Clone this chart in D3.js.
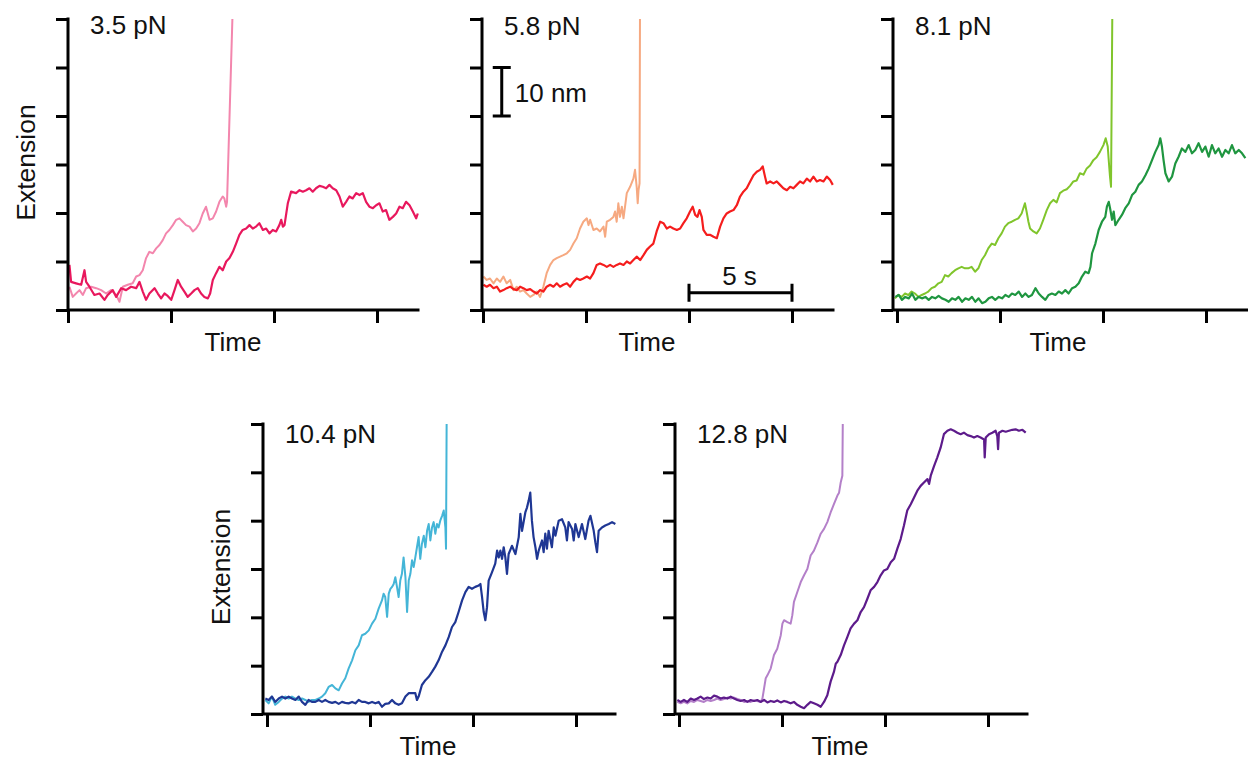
<!DOCTYPE html>
<html>
<head>
<meta charset="utf-8">
<script src="https://cdn.jsdelivr.net/npm/d3@7"></script>
<style>
  body { margin: 0; background: #fff; }
  svg { display: block; }
  text { font-family: "Liberation Sans", Arial, sans-serif; fill: #111; }
</style>
</head>
<body>
<script>
// force of each panel
const forces = ['3.5 pN', '5.8 pN', '8.1 pN', '10.4 pN', '12.8 pN'];

// [time (s), extension (nm)]
const trace35Light = [[0.07,4.8],[0.23,2.7],[0.39,3.4],[0.56,4.1],[0.72,3.1],[0.88,4.5],[1.12,4.8],[1.37,4.5],[1.61,4.1],[1.85,3.4],[2.09,4.1],[2.34,3.1],[2.5,1.7],[2.66,4.8],[2.9,5.2],[3.14,5.5],[3.31,6.9],[3.47,7.2],[3.63,8.2],[3.79,10.7],[3.95,12.0],[4.12,11.7],[4.28,12.7],[4.44,13.4],[4.6,14.4],[4.76,15.8],[4.92,16.5],[5.09,17.5],[5.25,18.6],[5.41,18.9],[5.57,18.2],[5.73,17.5],[5.9,17.2],[6.06,16.2],[6.22,16.8],[6.38,17.9],[6.54,19.9],[6.7,21.3],[6.87,18.6],[7.03,18.9],[7.19,20.3],[7.35,22.3],[7.51,23.4],[7.59,23.0],[7.68,21.3],[7.72,22.3],[7.98,60]];
const trace35Dark = [[0.07,9.3],[0.15,5.8],[0.39,5.5],[0.64,5.2],[0.8,8.2],[0.88,5.8],[1.04,4.8],[1.28,3.1],[1.53,3.4],[1.77,2.1],[1.93,3.1],[2.17,4.1],[2.34,2.7],[2.58,4.5],[2.82,4.1],[3.06,4.8],[3.31,4.5],[3.47,5.8],[3.63,3.8],[3.79,2.1],[3.95,3.4],[4.2,4.5],[4.36,3.4],[4.52,2.4],[4.68,3.4],[4.84,2.9],[5.01,2.1],[5.17,4.1],[5.33,6.2],[5.49,4.8],[5.65,3.8],[5.81,2.7],[5.98,3.4],[6.14,4.1],[6.3,4.5],[6.46,3.4],[6.62,2.7],[6.79,2.4],[6.9,3.4],[7.03,6.2],[7.19,7.6],[7.35,8.9],[7.51,8.2],[7.68,10.0],[7.84,10.7],[8.0,12.0],[8.16,13.7],[8.32,15.5],[8.48,16.5],[8.65,16.8],[8.81,17.5],[8.97,16.8],[9.13,17.2],[9.29,17.9],[9.46,16.5],[9.62,16.8],[9.78,15.8],[9.94,16.5],[10.1,16.2],[10.26,17.5],[10.35,18.6],[10.43,17.2],[10.51,17.5],[10.67,22.0],[10.83,24.4],[11.07,24.1],[11.24,24.7],[11.4,24.4],[11.56,24.7],[11.72,25.1],[11.88,24.4],[12.04,25.1],[12.21,25.6],[12.37,25.4],[12.53,25.1],[12.69,25.8],[12.85,25.1],[13.02,24.7],[13.18,23.4],[13.34,21.3],[13.5,22.3],[13.66,23.4],[13.82,23.0],[13.99,24.1],[14.15,23.7],[14.31,24.1],[14.47,22.3],[14.63,21.3],[14.8,21.0],[14.96,21.6],[15.12,22.0],[15.28,20.3],[15.44,20.6],[15.6,18.6],[15.77,19.2],[15.93,19.9],[16.09,21.3],[16.25,21.0],[16.41,22.3],[16.58,21.6],[16.74,20.3],[16.9,18.9],[16.98,19.9]];

const trace58Light = [[0.02,6.9],[0.18,6.2],[0.34,6.5],[0.51,5.5],[0.67,6.5],[0.83,5.8],[0.99,6.9],[1.15,5.5],[1.32,6.2],[1.48,4.1],[1.64,4.8],[1.8,3.8],[1.96,4.1],[2.12,3.4],[2.29,2.7],[2.45,3.1],[2.61,3.8],[2.77,2.7],[2.93,4.8],[3.09,7.6],[3.26,9.3],[3.42,10.3],[3.58,10.7],[3.74,11.0],[3.9,11.3],[4.07,11.7],[4.23,12.4],[4.39,13.7],[4.55,14.8],[4.71,16.8],[4.87,18.2],[5.04,18.9],[5.12,17.5],[5.2,18.6],[5.36,16.5],[5.52,16.8],[5.68,16.2],[5.85,17.2],[5.93,15.1],[6.01,18.2],[6.17,18.6],[6.33,19.2],[6.41,20.3],[6.49,18.2],[6.57,22.0],[6.65,19.2],[6.74,21.3],[6.82,18.9],[6.98,24.1],[7.14,25.4],[7.3,27.1],[7.38,28.9],[7.46,25.4],[7.51,22.0],[7.55,24.7],[7.6,26.1],[7.62,60]];
const trace58Dark = [[0.02,5.2],[0.18,4.8],[0.34,5.2],[0.51,4.5],[0.67,4.8],[0.83,3.8],[0.99,4.1],[1.15,4.5],[1.32,4.8],[1.48,4.3],[1.64,4.1],[1.8,4.8],[1.96,4.5],[2.12,4.1],[2.29,4.3],[2.45,3.8],[2.61,3.4],[2.77,4.1],[2.93,3.8],[3.09,4.8],[3.26,5.2],[3.42,4.8],[3.58,5.5],[3.74,4.8],[3.9,5.2],[4.07,5.5],[4.23,4.8],[4.39,5.8],[4.55,6.5],[4.71,6.2],[4.87,6.5],[5.04,6.9],[5.2,6.5],[5.36,7.6],[5.52,9.3],[5.68,9.6],[5.85,9.3],[6.01,8.9],[6.17,9.3],[6.33,8.9],[6.49,9.3],[6.65,9.6],[6.82,9.3],[6.98,10.0],[7.14,9.6],[7.3,10.3],[7.46,11.0],[7.63,10.3],[7.79,11.3],[7.95,12.4],[8.11,13.1],[8.27,13.7],[8.43,16.2],[8.6,18.2],[8.76,17.9],[8.92,16.8],[9.08,17.2],[9.24,16.8],[9.41,16.5],[9.57,16.8],[9.73,17.9],[9.89,18.9],[10.05,20.3],[10.18,21.3],[10.3,19.6],[10.41,19.2],[10.51,20.6],[10.62,19.2],[10.7,16.5],[10.86,15.5],[11.02,15.5],[11.19,15.1],[11.35,14.8],[11.51,17.2],[11.67,18.9],[11.83,19.9],[11.99,20.3],[12.16,20.6],[12.32,21.6],[12.48,23.4],[12.64,24.4],[12.8,25.1],[12.97,26.5],[13.13,27.8],[13.29,28.5],[13.45,28.9],[13.58,29.6],[13.69,27.5],[13.77,26.1],[13.94,26.5],[14.1,26.1],[14.26,26.5],[14.42,25.8],[14.58,25.1],[14.75,24.7],[14.91,25.4],[15.07,25.1],[15.23,25.8],[15.39,26.5],[15.55,26.1],[15.72,27.1],[15.88,26.5],[16.04,27.5],[16.2,26.5],[16.36,26.8],[16.53,26.5],[16.69,27.5],[16.85,26.8],[16.98,25.8]];

const trace81Light = [[-0.1,2.4],[0.06,3.1],[0.23,2.7],[0.39,3.4],[0.55,3.1],[0.71,3.8],[0.87,3.4],[1.04,2.7],[1.2,3.1],[1.36,3.4],[1.52,3.8],[1.68,4.5],[1.84,4.8],[2.01,5.5],[2.17,5.8],[2.33,7.2],[2.49,6.9],[2.65,7.6],[2.82,8.2],[2.98,8.6],[3.14,8.9],[3.3,8.6],[3.46,8.6],[3.62,8.9],[3.79,7.9],[3.95,8.6],[4.11,10.3],[4.27,11.3],[4.43,12.7],[4.6,13.7],[4.76,13.4],[4.92,14.8],[5.08,15.8],[5.24,17.2],[5.4,17.9],[5.57,18.2],[5.73,18.6],[5.89,18.9],[6.05,19.9],[6.21,22.0],[6.29,20.3],[6.38,18.2],[6.46,16.8],[6.62,16.2],[6.78,15.8],[6.94,16.8],[7.1,18.6],[7.27,20.6],[7.43,22.0],[7.59,22.7],[7.75,22.2],[7.91,24.1],[8.07,24.6],[8.24,24.9],[8.4,25.6],[8.56,26.5],[8.72,26.7],[8.88,28.2],[9.05,27.9],[9.21,29.2],[9.37,29.8],[9.53,30.9],[9.69,31.5],[9.85,32.6],[10.02,34.0],[10.13,35.4],[10.23,33.7],[10.29,30.2],[10.34,27.5],[10.39,25.4],[10.45,60]];
const trace81Dark = [[-0.08,2.7],[0.08,3.1],[0.24,2.1],[0.4,2.7],[0.57,2.4],[0.73,3.4],[0.89,2.1],[1.05,2.7],[1.21,2.4],[1.38,2.7],[1.54,2.1],[1.7,2.7],[1.86,2.4],[2.02,2.9],[2.18,2.4],[2.35,2.1],[2.51,1.7],[2.67,2.4],[2.83,2.1],[2.99,2.7],[3.16,1.7],[3.32,2.4],[3.48,2.1],[3.64,2.7],[3.8,1.7],[3.96,2.4],[4.13,1.4],[4.29,1.7],[4.45,2.4],[4.61,2.7],[4.77,2.1],[4.94,2.7],[5.1,2.4],[5.26,3.1],[5.42,2.7],[5.58,3.4],[5.74,3.1],[5.91,3.8],[6.07,2.7],[6.23,3.4],[6.39,2.7],[6.55,3.1],[6.72,4.5],[6.88,3.4],[7.04,2.7],[7.2,2.1],[7.36,3.1],[7.52,3.4],[7.69,3.1],[7.85,3.8],[8.01,3.4],[8.17,4.1],[8.33,3.4],[8.5,4.5],[8.66,4.8],[8.82,5.5],[8.98,6.9],[9.14,7.9],[9.3,7.6],[9.39,8.9],[9.47,11.7],[9.63,13.7],[9.79,16.5],[9.95,18.2],[10.11,19.2],[10.19,21.3],[10.28,22.3],[10.36,20.6],[10.44,18.6],[10.52,20.3],[10.6,17.5],[10.76,18.6],[10.92,19.6],[11.08,21.0],[11.25,22.0],[11.41,23.7],[11.57,24.4],[11.73,25.8],[11.89,26.5],[12.06,27.8],[12.22,29.2],[12.38,30.9],[12.54,32.6],[12.7,34.0],[12.78,35.4],[12.86,33.7],[12.94,30.9],[13.03,28.2],[13.19,26.5],[13.35,27.5],[13.51,30.2],[13.67,31.6],[13.83,33.3],[14.0,32.6],[14.16,34.0],[14.32,32.3],[14.48,33.0],[14.64,34.4],[14.81,32.6],[14.97,33.7],[15.13,31.6],[15.29,34.0],[15.45,32.3],[15.61,33.3],[15.78,31.6],[15.94,33.0],[16.1,32.3],[16.26,34.0],[16.42,32.3],[16.59,33.0],[16.75,32.3],[16.91,31.3]];

const trace104Light = [[-0.08,2.9],[0.08,2.2],[0.24,3.6],[0.4,1.9],[0.57,2.5],[0.73,3.2],[0.89,3.6],[1.05,3.2],[1.21,3.6],[1.38,3.2],[1.54,2.9],[1.7,3.2],[1.86,2.9],[2.02,2.5],[2.18,2.9],[2.35,2.9],[2.51,3.2],[2.67,3.6],[2.83,4.3],[2.99,5.6],[3.16,6.0],[3.32,5.3],[3.48,4.9],[3.64,6.3],[3.8,7.4],[3.96,9.4],[4.13,11.1],[4.29,13.2],[4.45,14.2],[4.61,16.3],[4.77,16.6],[4.94,17.3],[5.1,18.7],[5.26,19.7],[5.42,21.8],[5.58,23.5],[5.66,24.9],[5.74,24.2],[5.83,20.1],[5.91,24.9],[5.99,25.9],[6.07,26.3],[6.15,26.9],[6.23,28.3],[6.31,26.3],[6.39,24.2],[6.47,27.6],[6.55,29.0],[6.63,32.4],[6.72,28.3],[6.8,21.1],[6.88,27.6],[6.96,29.0],[7.04,31.8],[7.12,30.4],[7.2,32.4],[7.28,34.5],[7.36,36.6],[7.44,32.1],[7.52,35.2],[7.61,36.9],[7.69,34.5],[7.77,37.9],[7.85,39.3],[7.93,35.9],[8.01,38.6],[8.09,39.7],[8.17,37.3],[8.25,39.3],[8.33,38.6],[8.41,40.0],[8.5,41.0],[8.58,42.1],[8.66,38.6],[8.69,34.2],[8.72,60]];
const trace104Dark = [[-0.08,3.2],[0.08,2.9],[0.24,3.6],[0.4,2.5],[0.57,3.2],[0.73,3.6],[0.89,3.2],[1.05,3.6],[1.21,3.2],[1.38,2.9],[1.54,3.6],[1.7,2.5],[1.86,1.9],[2.02,2.9],[2.18,2.5],[2.35,2.5],[2.51,2.9],[2.67,2.5],[2.83,2.9],[2.99,2.5],[3.16,2.3],[3.32,2.5],[3.48,2.1],[3.64,2.5],[3.8,2.3],[3.96,2.2],[4.13,2.5],[4.29,2.2],[4.45,2.9],[4.61,2.5],[4.77,2.5],[4.94,2.2],[5.1,2.5],[5.26,2.2],[5.42,2.5],[5.58,1.5],[5.74,2.1],[5.91,2.2],[6.07,2.9],[6.23,2.2],[6.39,1.9],[6.55,2.2],[6.72,3.6],[6.88,4.3],[7.04,4.3],[7.2,4.3],[7.28,2.9],[7.36,3.6],[7.52,6.0],[7.69,7.0],[7.85,7.7],[8.01,8.7],[8.17,9.8],[8.33,11.1],[8.5,12.9],[8.66,14.2],[8.82,15.9],[8.98,18.0],[9.14,19.0],[9.3,21.1],[9.47,23.5],[9.63,25.2],[9.79,26.3],[9.95,25.9],[10.11,26.3],[10.28,26.6],[10.36,26.9],[10.44,24.2],[10.52,21.1],[10.6,19.4],[10.68,22.1],[10.76,27.6],[10.92,29.3],[11.08,31.1],[11.17,33.8],[11.25,32.4],[11.33,33.8],[11.41,32.1],[11.49,34.5],[11.57,32.4],[11.65,29.0],[11.73,33.1],[11.89,34.8],[12.06,33.1],[12.22,36.6],[12.3,41.4],[12.38,37.9],[12.54,41.7],[12.62,42.7],[12.7,44.1],[12.78,45.8],[12.86,40.0],[12.94,36.6],[13.03,34.5],[13.11,32.1],[13.19,33.8],[13.35,35.9],[13.43,33.5],[13.51,37.3],[13.59,34.2],[13.67,37.9],[13.83,34.5],[13.92,38.6],[14.0,36.9],[14.16,40.0],[14.32,40.3],[14.48,38.6],[14.56,35.9],[14.64,39.7],[14.81,38.3],[14.89,35.9],[14.97,39.3],[15.13,36.6],[15.29,39.3],[15.45,36.2],[15.61,40.0],[15.7,41.0],[15.86,37.9],[15.94,35.5],[16.02,33.5],[16.1,37.9],[16.26,38.6],[16.42,39.0],[16.59,39.3],[16.75,39.7],[16.91,39.3]];

const trace128Light = [[-0.08,2.5],[0.08,2.2],[0.24,2.5],[0.4,2.2],[0.57,2.7],[0.73,2.5],[0.89,2.9],[1.05,2.7],[1.21,2.5],[1.38,2.9],[1.54,2.7],[1.7,2.9],[1.86,3.2],[2.02,2.9],[2.18,3.1],[2.35,3.4],[2.51,3.2],[2.67,3.4],[2.83,3.1],[2.99,2.9],[3.16,2.5],[3.32,2.7],[3.48,2.5],[3.64,2.8],[3.8,2.7],[3.96,2.5],[4.05,3.2],[4.13,5.3],[4.21,7.4],[4.29,8.0],[4.45,9.4],[4.61,12.2],[4.77,13.5],[4.94,16.3],[5.02,18.7],[5.1,19.4],[5.26,19.0],[5.42,18.7],[5.5,20.4],[5.58,23.2],[5.74,25.2],[5.91,27.3],[6.07,28.7],[6.23,30.0],[6.39,32.8],[6.55,33.8],[6.72,35.5],[6.88,37.3],[7.04,38.3],[7.2,39.7],[7.36,41.7],[7.52,43.4],[7.69,45.2],[7.77,45.8],[7.85,47.9],[7.93,49.3],[7.95,60]];
const trace128Dark = [[-0.08,2.9],[0.08,2.5],[0.24,2.9],[0.4,2.5],[0.57,3.2],[0.73,2.9],[0.89,3.2],[1.05,3.6],[1.21,3.1],[1.38,3.4],[1.54,3.2],[1.7,3.8],[1.86,3.6],[2.02,3.2],[2.18,3.4],[2.35,3.2],[2.51,3.6],[2.67,3.2],[2.83,2.9],[2.99,2.7],[3.16,2.9],[3.32,2.5],[3.48,2.9],[3.64,2.7],[3.8,2.9],[3.96,2.5],[4.13,2.9],[4.29,2.4],[4.45,2.7],[4.61,2.5],[4.77,2.8],[4.94,2.4],[5.1,2.7],[5.26,2.5],[5.42,2.2],[5.58,2.5],[5.74,1.9],[5.91,1.5],[6.07,1.2],[6.23,1.9],[6.39,2.5],[6.55,2.2],[6.72,1.9],[6.88,1.5],[7.04,2.5],[7.2,3.9],[7.28,5.3],[7.36,6.7],[7.52,8.7],[7.61,10.4],[7.69,10.8],[7.85,12.2],[8.01,14.2],[8.17,15.9],[8.33,17.7],[8.5,18.7],[8.66,19.4],[8.82,21.1],[8.98,22.1],[9.14,23.8],[9.3,25.6],[9.47,26.3],[9.63,27.3],[9.79,28.7],[9.95,29.7],[10.11,30.0],[10.28,31.4],[10.44,32.1],[10.6,34.2],[10.76,36.2],[10.92,39.0],[11.08,42.1],[11.25,43.4],[11.41,44.8],[11.57,46.2],[11.73,47.2],[11.89,47.9],[12.06,48.6],[12.14,47.6],[12.22,49.3],[12.38,51.3],[12.54,53.1],[12.7,55.1],[12.78,56.5],[12.86,57.9],[13.03,58.6],[13.19,58.9],[13.35,58.6],[13.51,58.2],[13.67,57.9],[13.83,58.2],[14.0,57.7],[14.16,57.5],[14.32,57.2],[14.48,57.5],[14.64,57.2],[14.81,56.8],[14.84,53.1],[14.89,57.2],[15.05,57.9],[15.21,58.2],[15.37,58.6],[15.45,57.5],[15.49,54.8],[15.53,58.2],[15.7,58.6],[15.86,58.4],[16.02,58.6],[16.18,58.8],[16.34,58.9],[16.5,58.6],[16.67,58.8],[16.83,58.2]];

const yTicks = [0, 10, 20, 30, 40, 50, 60];
const xTicks = [0, 5, 10, 15];
const scaleBarNm = [40, 50];   // 10 nm bar
const scaleBarS = [10, 15];    // 5 s bar

const width = 1248;
const height = 761;
const pxPerSec = 20.6;

const svg = d3.select('body')
  .append('svg')
  .attr('width', width)
  .attr('height', height);

// panel layout
const panels = [
  {x0: 68,  top: 19,  h: 291, off: 0, len: 350, ext: true,  labelDy: 15, light: trace35Light,  dark: trace35Dark,  cLight: '#f386ad', cDark: '#e8185d'},
  {x0: 482, top: 19,  h: 291, off: 1, len: 351, ext: false, labelDy: 16, light: trace58Light,  dark: trace58Dark,  cLight: '#f6a981', cDark: '#f51d1d'},
  {x0: 893, top: 19,  h: 291, off: 4, len: 354, ext: false, labelDy: 16, light: trace81Light,  dark: trace81Dark,  cLight: '#80c52c', cDark: '#1f9640'},
  {x0: 263, top: 424, h: 290, off: 4, len: 352, ext: true,  labelDy: 19, light: trace104Light, dark: trace104Dark, cLight: '#44b5d7', cDark: '#1f3794'},
  {x0: 675, top: 424, h: 290, off: 4, len: 352, ext: false, labelDy: 19, light: trace128Light, dark: trace128Dark, cLight: '#b480c9', cDark: '#5d1b8b'}
];

panels.forEach((p, i) => {
  const bottom = p.top + p.h;
  const x = d3.scaleLinear()
    .domain([-p.off / pxPerSec, (p.len - p.off) / pxPerSec])
    .range([p.x0, p.x0 + p.len]);
  const y = d3.scaleLinear()
    .domain([0, 60])
    .range([bottom, p.top]);
  const line = d3.line().x(d => x(d[0])).y(d => y(d[1]));

  const g = svg.append('g').attr('class', 'panel');

  // traces, light one underneath
  g.append('path')
    .datum(p.light)
    .attr('d', line)
    .attr('fill', 'none')
    .attr('stroke', p.cLight)
    .attr('stroke-width', 2)
    .attr('stroke-linejoin', 'round');

  g.append('path')
    .datum(p.dark)
    .attr('d', line)
    .attr('fill', 'none')
    .attr('stroke', p.cDark)
    .attr('stroke-width', 2.2)
    .attr('stroke-linejoin', 'round');

  // ticks
  g.append('g')
    .attr('transform', `translate(${p.x0},0)`)
    .call(d3.axisLeft(y).tickValues(yTicks).tickSize(12).tickSizeOuter(0).tickFormat(''))
    .call(a => a.select('.domain').remove())
    .call(a => a.selectAll('line').attr('stroke', '#000').attr('stroke-width', 3));

  g.append('g')
    .attr('transform', `translate(0,${bottom})`)
    .call(d3.axisBottom(x).tickValues(xTicks).tickSize(13).tickSizeOuter(0).tickFormat(''))
    .call(a => a.select('.domain').remove())
    .call(a => a.selectAll('line').attr('stroke', '#000').attr('stroke-width', 3));

  // axis lines
  g.append('path')
    .attr('d', `M${p.x0},${p.top}V${bottom}H${p.x0 + p.len}`)
    .attr('fill', 'none')
    .attr('stroke', '#000')
    .attr('stroke-width', 3)
    .attr('stroke-linecap', 'square');

  g.append('text')
    .attr('x', p.x0 + 22)
    .attr('y', p.top + p.labelDy)
    .attr('font-size', 26)
    .text(forces[i]);

  g.append('text')
    .attr('x', p.x0 + 165)
    .attr('y', bottom + 41)
    .attr('text-anchor', 'middle')
    .attr('font-size', 26)
    .text('Time');

  if (p.ext) {
    g.append('text')
      .attr('transform', `translate(${p.x0 - 33},${(p.top + bottom) / 2 - 2}) rotate(-90)`)
      .attr('text-anchor', 'middle')
      .attr('font-size', 26.5)
      .text('Extension');
  }

  // scale bars live in the 5.8 pN panel
  if (i === 1) {
    const bx = x(0.91);
    g.append('path')
      .attr('d', `M${bx - 9},${y(scaleBarNm[1])}H${bx + 9}M${bx},${y(scaleBarNm[1])}V${y(scaleBarNm[0])}M${bx - 9},${y(scaleBarNm[0])}H${bx + 9}`)
      .attr('fill', 'none')
      .attr('stroke', '#000')
      .attr('stroke-width', 3);
    g.append('text')
      .attr('x', bx + 13)
      .attr('y', (y(scaleBarNm[0]) + y(scaleBarNm[1])) / 2 + 10)
      .attr('font-size', 26)
      .text('10 nm');

    const by = y(3.57);
    g.append('path')
      .attr('d', `M${x(scaleBarS[0])},${by - 9}V${by + 9}M${x(scaleBarS[0])},${by}H${x(scaleBarS[1])}M${x(scaleBarS[1])},${by - 9}V${by + 9}`)
      .attr('fill', 'none')
      .attr('stroke', '#000')
      .attr('stroke-width', 3);
    g.append('text')
      .attr('x', x(12.45))
      .attr('y', by - 8)
      .attr('text-anchor', 'middle')
      .attr('font-size', 26)
      .text('5 s');
  }
});
</script>
</body>
</html>
